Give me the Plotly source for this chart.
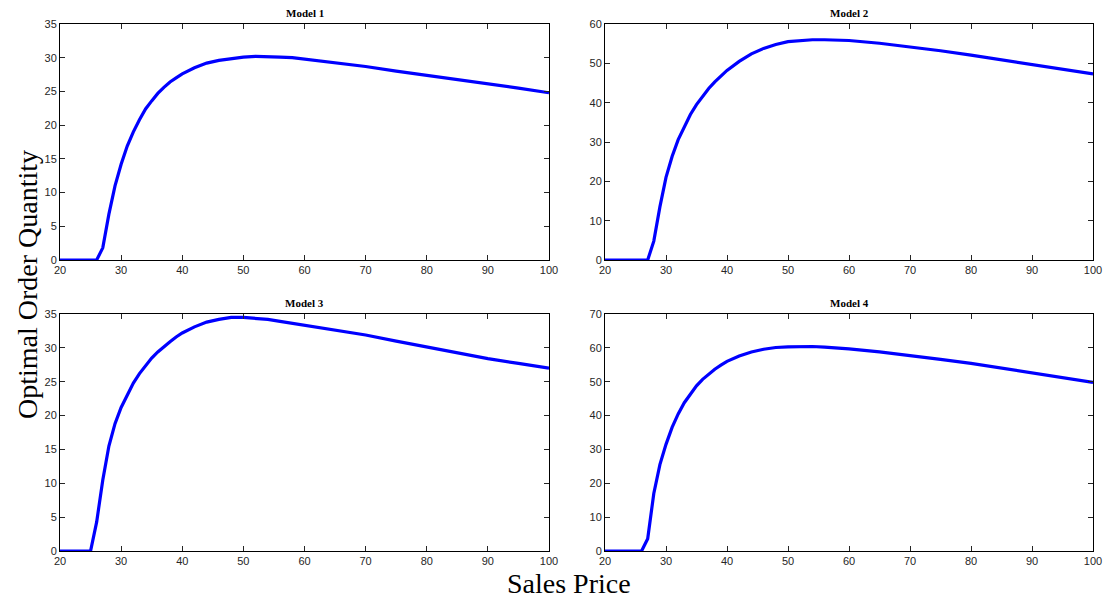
import plotly.graph_objects as go

# Shared sales price grid
price = [20, 26, 27, 28, 29, 30, 31, 32, 33, 34, 35, 36, 37, 38, 39, 40, 42, 44, 46, 48, 50,
         52, 54, 56, 58, 60, 65, 70, 75, 80, 85, 90, 95, 100]

model1 = [0, 0, 1.8, 6.8, 11.0, 14.2, 16.9, 19.0, 20.8, 22.4, 23.6, 24.7, 25.6, 26.4, 27.0, 27.6, 28.5,
          29.2, 29.6, 29.9, 30.1, 30.2, 30.2, 30.1, 30.0, 29.8, 29.3, 28.7, 28.0, 27.4,
          26.8, 26.1, 25.5, 24.8]
model2 = [0, 0, 0, 4.8, 13.5, 21.0, 26.3, 30.6, 34.0, 37.0, 39.5, 41.7, 43.6, 45.3, 46.8, 48.2, 50.5,
          52.4, 53.8, 54.8, 55.5, 55.8, 56.0, 56.0, 55.9, 55.8, 55.1, 54.2, 53.2, 52.1,
          50.9, 49.6, 48.5, 47.3]
# Model 3 starts rising at 25
price3 = [20, 25, 26, 27, 28, 29, 30, 31, 32, 33, 34, 35, 36, 37, 38, 39, 40, 42, 44, 46, 48, 50,
          52, 54, 56, 58, 60, 65, 70, 75, 80, 85, 90, 95, 100]
model3 = [0, 0, 4.3, 10.5, 15.5, 18.8, 21.2, 23.1, 24.8, 26.2, 27.4, 28.5, 29.4, 30.2, 30.9, 31.6, 32.2,
          33.1, 33.8, 34.2, 34.5, 34.5, 34.4, 34.2, 33.9, 33.6, 33.3, 32.6, 31.9, 31.0,
          30.1, 29.2, 28.4, 27.7, 27.0]
model4 = [0, 0, 3.6, 17.0, 25.5, 31.5, 36.5, 40.5, 43.8, 46.5, 48.8, 50.7, 52.3, 53.7, 54.9, 56.0, 57.6,
          58.8, 59.6, 60.1, 60.3, 60.4, 60.4, 60.2, 60.0, 59.7, 58.8, 57.8, 56.6, 55.4,
          54.0, 52.5, 51.2, 49.8]

titles = ["Model 1", "Model 2", "Model 3", "Model 4"]
y_max = [35, 60, 35, 70]
y_step = [5, 10, 5, 10]
x_ticks = [20, 30, 40, 50, 60, 70, 80, 90, 100]

W, H = 1103, 599


def px_x(p):
    return p / W


def px_y(p):
    return 1 - p / H


# plot-area pixel boxes in window coordinates (left, right, top, bottom)
boxes = [(60, 549, 24, 260), (605, 1093, 24, 260), (60, 549, 314, 551), (605, 1093, 314, 551)]

fig = go.Figure()
series = [(price, model1), (price, model2), (price3, model3), (price, model4)]
tick_font = dict(family="Liberation Sans, Arial", size=11, color="#262626")
for i, ((xs, ys), box) in enumerate(zip(series, boxes)):
    n = "" if i == 0 else str(i + 1)
    fig.add_trace(go.Scatter(x=xs, y=ys, mode="lines", line=dict(color="#0000FF", width=3.2),
                             xaxis="x" + n, yaxis="y" + n, showlegend=False))
    l, r, t, b = box
    fig.layout["xaxis" + n] = dict(domain=[px_x(l), px_x(r)], anchor="y" + n, range=[20, 100],
                                   tickvals=x_ticks, ticks="inside", ticklen=5, tickcolor="#262626",
                                   showline=True, linecolor="black", linewidth=1, mirror="ticks",
                                   showgrid=False, zeroline=False, tickfont=tick_font, automargin=False,
                                   ticklabeloverflow="allow")
    fig.layout["yaxis" + n] = dict(domain=[px_y(b), px_y(t)], anchor="x" + n, range=[0, y_max[i]],
                                   dtick=y_step[i], tick0=0, ticks="inside", ticklen=5, tickcolor="#262626",
                                   showline=True, linecolor="black", linewidth=1, mirror="ticks",
                                   showgrid=False, zeroline=False, tickfont=tick_font, automargin=False,
                                   ticklabeloverflow="allow")
    fig.add_annotation(text="<b>" + titles[i] + "</b>", x=px_x((l + r) / 2), y=px_y(t - 11),
                       xref="paper", yref="paper", xanchor="center", yanchor="middle", showarrow=False,
                       font=dict(family="Liberation Serif, DejaVu Serif", size=11, color="black"))

fig.add_annotation(text="Optimal Order Quantity", x=px_x(27), y=px_y(285), xref="paper", yref="paper",
                   xanchor="center", yanchor="middle", textangle=-90, showarrow=False,
                   font=dict(family="Liberation Serif, DejaVu Serif", size=28, color="black"))
fig.add_annotation(text="Sales Price", x=px_x(569), y=px_y(583), xref="paper", yref="paper",
                   xanchor="center", yanchor="middle", showarrow=False,
                   font=dict(family="Liberation Serif, DejaVu Serif", size=28, color="black"))

fig.update_layout(width=W, height=H, margin=dict(l=0, r=0, t=0, b=0, autoexpand=False),
                  paper_bgcolor="white", plot_bgcolor="white")
# remove the default page margin so the figure fills the window exactly
fig.write_html("out.html", config={"displayModeBar": False},
               post_script="document.body.style.margin='0';document.body.style.overflow='hidden';")
